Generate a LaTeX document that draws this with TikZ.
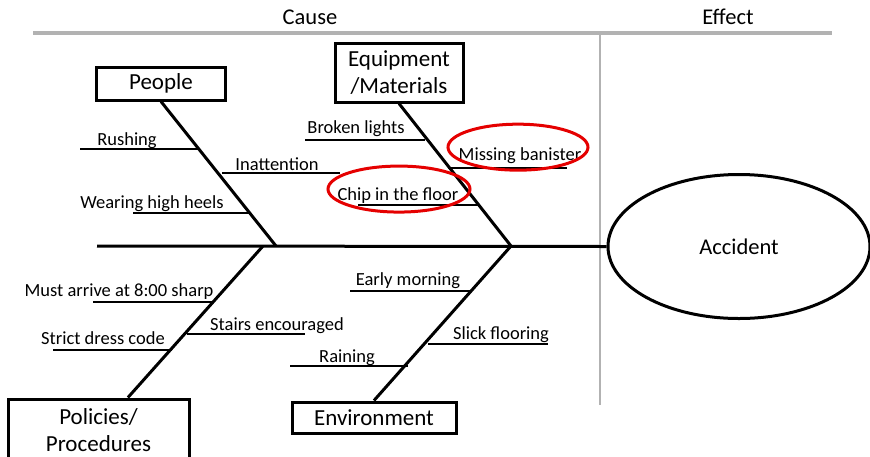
\documentclass[tikz,border=0pt]{standalone}
\usepackage{fontspec}
\setmainfont{Carlito}
\usetikzlibrary{shapes.geometric,calc}

\begin{document}
\begin{tikzpicture}[x=1pt, y=-1pt,
    head/.style={font=\fontsize{22.5}{27}\selectfont},
    cat/.style={draw, line width=3pt, align=center, inner sep=0pt,
      font=\fontsize{23}{27}\selectfont},
    cause/.style={anchor=base, inner sep=0pt, font=\fontsize{18.5}{22}\selectfont},
    bone/.style={line width=3pt},
    rib/.style={line width=2.8pt},
    rulel/.style={line width=3.5pt, black!30},
    ring/.style={draw=red!90!black, line width=3pt}
  ]
    \useasboundingbox (0,0) rectangle (870,456);

    % cause / effect header
    \node[head] (cause) at (310,17) {Cause};
    \node[head] (effect) at (728,17) {Effect};
    \coordinate (hl) at (33,33);
    \coordinate (hr) at (832,33);
    \coordinate (vb) at (600,405);
    \draw[rulel] (hl) -- (hr);
    \draw[rulel, line width=2.5pt] (600,33) -- (vb);

    % effect and spine
    \node[draw, ellipse, line width=3pt, minimum width=262pt,
      minimum height=144pt, inner sep=0pt, head] (acc) at (739,246.5) {Accident};
    \coordinate (tail) at (97,246);
    \coordinate (jp) at (276,246);
    \coordinate (jq) at (263,246);
    \coordinate (je) at (511,246);
    \draw[bone] (tail) -- (acc.west);

    % categories
    \node[cat, minimum width=129pt, minimum height=33pt] (people) at (161,83.5) {People};
    \node[cat, minimum width=128pt, minimum height=59pt] (equip) at (399,72.5)
      {Equipment\\/Materials};
    \node[cat, minimum width=181pt, minimum height=62pt] (pol) at (98.5,430)
      {Policies/\\Procedures};
    \node[cat, minimum width=164pt, minimum height=31pt] (env) at (374,417.5)
      {Environment};

    \draw[bone] (people.south) -- (jp);
    \draw[bone] (equip.south) -- (je);
    \draw[bone] ($(pol.north west)!0.66!(pol.north east)$) -- (jq);
    \draw[bone] (env.north) -- (je);

    % causes: name/left/right/line y/text x/baseline/text
    \foreach \n/\xa/\xb/\y/\xt/\yb/\txt in {
        rush/80/200/149/127/145/Rushing,
        inat/222/340/173/277/170/Inattention,
        heel/133/250/213/152/208/Wearing high heels,
        brok/305/425/140/356/133/Broken lights,
        miss/448/567/168/520/160/Missing banister,
        chip/358/478/205/398/200/Chip in the floor,
        must/93/213/302/119/296/Must arrive at 8:00 sharp,
        stair/187/305/334/277/330/Stairs encouraged,
        dress/53/172/350/103/344/Strict dress code,
        early/350/470/291/408/285/Early morning,
        slick/428/548/344/501/339/Slick flooring,
        rain/290/408/366/347/362/Raining} {
      \coordinate (\n-l) at (\xa,\y);
      \coordinate (\n-r) at (\xb,\y);
      \draw[rib] (\n-l) -- (\n-r);
      \node[cause] (\n) at (\xt,\yb) {\txt};
    }

    % circled causes
    \draw[ring] ($(miss.center)+(-2,-8)$) ellipse (70pt and 23pt);
    \draw[ring] ($(chip.center)+(1,-6)$) ellipse (71pt and 23pt);
\end{tikzpicture}
\end{document}
